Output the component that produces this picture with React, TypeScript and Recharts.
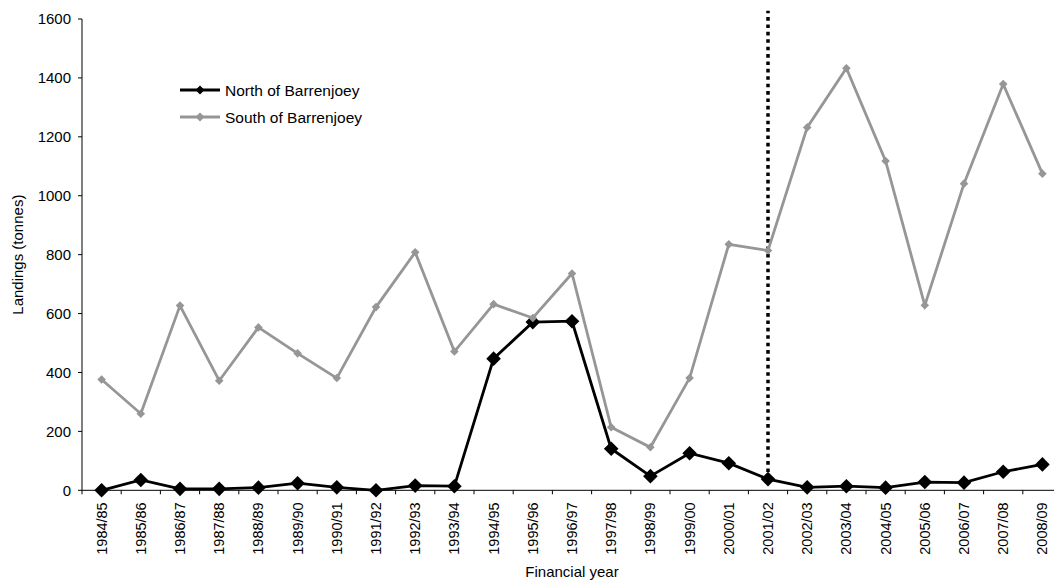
import React from 'react';
import { LineChart, Line, XAxis, YAxis, Legend, ReferenceLine } from 'recharts';

const FONT = '"Liberation Sans", Arial, sans-serif';

const years = [
  '1984/85', '1985/86', '1986/87', '1987/88', '1988/89', '1989/90', '1990/91', '1991/92',
  '1992/93', '1993/94', '1994/95', '1995/96', '1996/97', '1997/98', '1998/99', '1999/00',
  '2000/01', '2001/02', '2002/03', '2003/04', '2004/05', '2005/06', '2006/07', '2007/08', '2008/09',
];
const north = [0, 35, 5, 5, 9, 24, 10, 0, 16, 14, 447, 571, 574, 141, 48, 126, 92, 38, 10, 14, 9, 28, 26, 63, 88];
const south = [376, 260, 627, 372, 553, 465, 381, 622, 808, 471, 632, 585, 736, 214, 146, 381, 835, 814, 1232, 1433, 1118, 628, 1041, 1379, 1075];
const yTicks = [0, 200, 400, 600, 800, 1000, 1200, 1400, 1600];
const markerYear = '2001/02';

const data = years.map((year, i) => ({ year, north: north[i], south: south[i] }));

const WIDTH = 1054;
const HEIGHT = 577;
const Y_AXIS_W = 74;
const BAND = (WIDTH - Y_AXIS_W) / years.length;

function Diamond({ cx, cy, r, fill }: { cx: number; cy: number; r: number; fill: string }) {
  return <path d={`M${cx},${cy - r}L${cx + r},${cy}L${cx},${cy + r}L${cx - r},${cy}Z`} fill={fill} stroke="none" />;
}

// label at the category centre, tick marks on the category boundaries (like Excel)
function YearTick(props: any) {
  const { x, y, payload, index } = props;
  const axisY = y - 12;
  const half = BAND / 2;
  return (
    <g>
      <line x1={x - half} x2={x - half} y1={axisY} y2={axisY + 4} stroke="#000" />
      {index === years.length - 1 && (
        <line x1={x + half} x2={x + half} y1={axisY} y2={axisY + 4} stroke="#000" />
      )}
      <text
        x={x}
        y={y}
        transform={`rotate(-90 ${x} ${y})`}
        textAnchor="end"
        dominantBaseline="central"
        fontSize={14.5}
        fontFamily={FONT}
        fill="#000"
      >
        {payload.value}
      </text>
    </g>
  );
}

function YTitle(props: any) {
  const { y, height } = props.viewBox;
  const cx = 10;
  const cy = y + height / 2;
  return (
    <text x={cx} y={cy} transform={`rotate(-90 ${cx} ${cy})`} textAnchor="middle" dominantBaseline="central"
      fontSize={15} fontFamily={FONT} fill="#000">
      Landings (tonnes)
    </text>
  );
}

function XTitle(props: any) {
  const { x, y, width, height } = props.viewBox;
  return (
    <text x={x + width / 2} y={y + height - 8} textAnchor="middle" fontSize={15} fontFamily={FONT} fill="#000">
      Financial year
    </text>
  );
}

function renderLegend({ payload }: any) {
  return (
    <svg width={240} height={60}>
      {(payload || []).map((entry: any, i: number) => (
        <g key={entry.value} transform={`translate(0, ${12 + i * 27})`}>
          <line x1={8} x2={48} y1={0} y2={0} stroke={entry.color} strokeWidth={3} />
          <Diamond cx={28} cy={0} r={4.5} fill={entry.color} />
          <text x={53} y={0} dominantBaseline="central" fontSize={15.5} fontFamily={FONT} fill="#000">
            {entry.value}
          </text>
        </g>
      ))}
    </svg>
  );
}

export default function App() {
  return (
    <LineChart width={WIDTH} height={HEIGHT} data={data} margin={{ top: 11, right: 0, bottom: 0, left: 0 }}>
      <XAxis
        dataKey="year"
        interval={0}
        height={94.7}
        padding={{ left: BAND / 2, right: BAND / 2 }}
        axisLine={{ stroke: '#000' }}
        tickLine={false}
        tickSize={4}
        tickMargin={8}
        tick={<YearTick />}
        label={{ content: <XTitle /> }}
      />
      <YAxis
        width={Y_AXIS_W}
        domain={[0, 1600]}
        ticks={yTicks}
        interval={0}
        axisLine={{ stroke: '#000' }}
        tickLine={{ stroke: '#000' }}
        tickSize={4}
        tickMargin={7}
        tick={{ fill: '#000', fontSize: 15, fontFamily: FONT }}
        label={{ content: <YTitle /> }}
      />
      <Legend
        layout="vertical"
        align="center"
        verticalAlign="middle"
        content={renderLegend}
        wrapperStyle={{ top: 70, left: 164, width: 240 }}
      />
      <ReferenceLine
        segment={[{ x: markerYear, y: 62 }, { x: markerYear, y: 1628 }]}
        ifOverflow="visible"
        stroke="#000"
        strokeWidth={3.5}
        strokeDasharray="3.6 3.8"
      />
      <Line
        type="linear"
        dataKey="north"
        name="North of Barrenjoey"
        stroke="#000"
        strokeWidth={2.8}
        isAnimationActive={false}
        dot={(p: any) => <Diamond key={`n${p.index}`} cx={p.cx} cy={p.cy} r={7.3} fill="#000" />}
        activeDot={false}
      />
      <Line
        type="linear"
        dataKey="south"
        name="South of Barrenjoey"
        stroke="#969696"
        strokeWidth={2.8}
        isAnimationActive={false}
        dot={(p: any) => <Diamond key={`s${p.index}`} cx={p.cx} cy={p.cy} r={4.3} fill="#969696" />}
        activeDot={false}
      />
    </LineChart>
  );
}
